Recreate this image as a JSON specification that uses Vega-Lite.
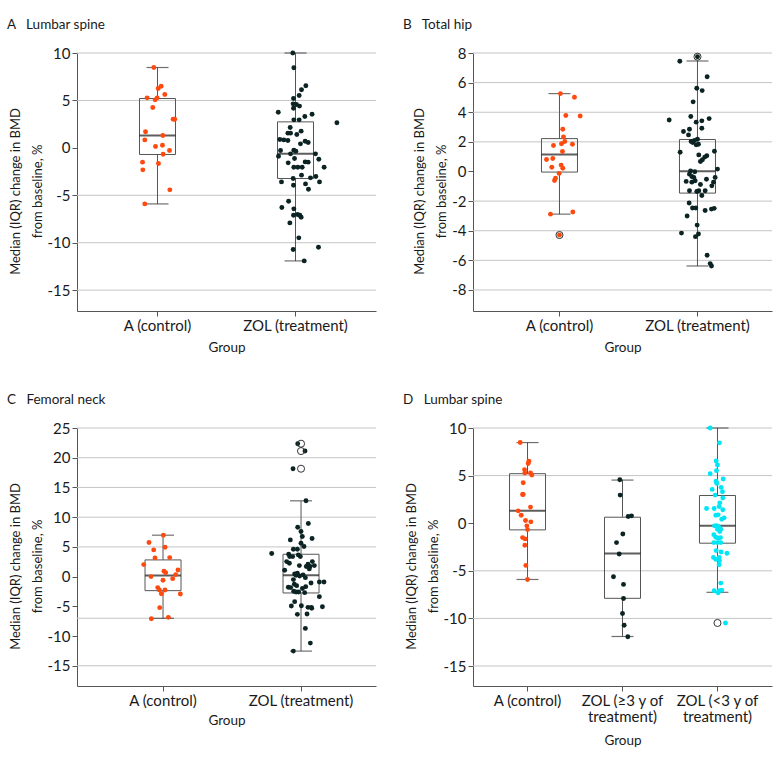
{
 "$schema": "https://vega.github.io/schema/vega-lite/v6.json",
 "padding": {"left": 7, "top": 17, "right": 5, "bottom": 5},
 "bounds": "flush",
 "columns": 2,
 "spacing": {"row": 117, "column": 97},
 "resolve": {"scale": {"x": "independent", "y": "independent", "color": "independent", "xOffset": "independent"}, "axis": {"x": "independent", "y": "independent"}},
 "config": {
  "font": "Lato",
  "view": {"stroke": null},
  "axis": {"labelFont": "Lato", "labelFontSize": 15, "labelColor": "#1a1a1a", "titleFont": "Lato", "titleFontSize": 13.5, "titleFontWeight": "normal", "titleColor": "#1a1a1a", "domainColor": "#555555", "tickColor": "#555555", "tickSize": 5, "grid": false, "labelPadding": 2, "labelOverlap": false},
  "title": {"font": "Lato", "fontSize": 13.5, "fontWeight": "normal", "anchor": "start", "frame": "group", "color": "#1a1a1a", "dx": -70, "offset": 15}
 },
 "datasets": {
  "gridA": [{"gv": 10}, {"gv": 5}, {"gv": -5}, {"gv": -10}, {"gv": -15}],
  "gridB": [{"gv": 8}, {"gv": 6}, {"gv": 4}, {"gv": 2}, {"gv": -2}, {"gv": -4}, {"gv": -6}, {"gv": -8}],
  "gridC": [{"gv": 25}, {"gv": 20}, {"gv": 15}, {"gv": 10}, {"gv": 5}, {"gv": -7}, {"gv": -15}],
  "boxA": [
   {"g": "A (control)", "lo": -5.91, "q1": -0.7, "med": 1.3, "q3": 5.2, "hi": 8.47},
   {"g": "ZOL (treatment)", "lo": -11.92, "q1": -3.23, "med": -0.63, "q3": 2.74, "hi": 10}
  ],
  "boxB": [
   {"g": "A (control)", "lo": -2.88, "q1": -0.04, "med": 1.15, "q3": 2.22, "hi": 5.26},
   {"g": "ZOL (treatment)", "lo": -6.38, "q1": -1.46, "med": 0.02, "q3": 2.16, "hi": 7.46}
  ],
  "boxC": [
   {"g": "A (control)", "lo": -7.02, "q1": -2.36, "med": 0.17, "q3": 2.81, "hi": 6.97},
   {"g": "ZOL (treatment)", "lo": -12.53, "q1": -2.75, "med": 0.22, "q3": 3.76, "hi": 12.75}
  ],
  "boxD": [
   {"g": "A (control)", "lo": -5.91, "q1": -0.7, "med": 1.3, "q3": 5.2, "hi": 8.47},
   {"g": "ZOL (≥3 y of treatment)", "lo": -11.9, "q1": -7.89, "med": -3.19, "q3": 0.63, "hi": 4.53},
   {"g": "ZOL (<3 y of treatment)", "lo": -7.26, "q1": -2.1, "med": -0.28, "q3": 2.91, "hi": 10}
  ],
  "outB": [{"g": "A (control)", "v": -4.29}, {"g": "ZOL (treatment)", "v": 7.75}],
  "outC": [{"g": "ZOL (treatment)", "v": 22.36}, {"g": "ZOL (treatment)", "v": 21.12}, {"g": "ZOL (treatment)", "v": 18.15}],
  "outD": [{"g": "ZOL (<3 y of treatment)", "v": -10.48}],
  "ptsA": [
   {"g": "A (control)", "v": 8.47, "j": -0.053}, {"g": "A (control)", "v": 6.26, "j": 0.01}, {"g": "A (control)", "v": 6.5, "j": 0.053},
   {"g": "A (control)", "v": 5.27, "j": -0.15}, {"g": "A (control)", "v": 5.06, "j": -0.034}, {"g": "A (control)", "v": 5.27, "j": -0.005},
   {"g": "A (control)", "v": 5.63, "j": 0.106}, {"g": "A (control)", "v": 4.25, "j": -0.068}, {"g": "A (control)", "v": 3.02, "j": 0.227},
   {"g": "A (control)", "v": 3.02, "j": 0.25}, {"g": "A (control)", "v": 1.69, "j": -0.174}, {"g": "A (control)", "v": 0.84, "j": -0.184},
   {"g": "A (control)", "v": 1.3, "j": 0.077}, {"g": "A (control)", "v": 0.14, "j": -0.029}, {"g": "A (control)", "v": 0.28, "j": 0.072},
   {"g": "A (control)", "v": -0.28, "j": 0.174}, {"g": "A (control)", "v": -0.67, "j": 0.082}, {"g": "A (control)", "v": -1.51, "j": -0.217},
   {"g": "A (control)", "v": -1.65, "j": 0.014}, {"g": "A (control)", "v": -2.32, "j": -0.213}, {"g": "A (control)", "v": -4.43, "j": 0.179},
   {"g": "A (control)", "v": -5.91, "j": -0.184},
   {"g": "ZOL (treatment)", "v": 10.0, "j": -0.039}, {"g": "ZOL (treatment)", "v": 8.44, "j": -0.024}, {"g": "ZOL (treatment)", "v": 6.54, "j": 0.15},
   {"g": "ZOL (treatment)", "v": 6.12, "j": 0.087}, {"g": "ZOL (treatment)", "v": 5.52, "j": 0.053}, {"g": "ZOL (treatment)", "v": 5.2, "j": -0.029},
   {"g": "ZOL (treatment)", "v": 4.64, "j": -0.034}, {"g": "ZOL (treatment)", "v": 4.57, "j": 0.014}, {"g": "ZOL (treatment)", "v": 4.4, "j": 0.058},
   {"g": "ZOL (treatment)", "v": 4.18, "j": -0.029}, {"g": "ZOL (treatment)", "v": 3.76, "j": -0.25}, {"g": "ZOL (treatment)", "v": 3.55, "j": 0.24},
   {"g": "ZOL (treatment)", "v": 3.3, "j": 0.135}, {"g": "ZOL (treatment)", "v": 2.95, "j": -0.024}, {"g": "ZOL (treatment)", "v": 2.95, "j": 0.053},
   {"g": "ZOL (treatment)", "v": 2.64, "j": 0.6}, {"g": "ZOL (treatment)", "v": 2.14, "j": -0.077}, {"g": "ZOL (treatment)", "v": 1.76, "j": 0.082},
   {"g": "ZOL (treatment)", "v": 1.55, "j": -0.11}, {"g": "ZOL (treatment)", "v": 1.55, "j": -0.072}, {"g": "ZOL (treatment)", "v": 1.41, "j": 0.019},
   {"g": "ZOL (treatment)", "v": 0.88, "j": -0.227}, {"g": "ZOL (treatment)", "v": 0.84, "j": -0.169}, {"g": "ZOL (treatment)", "v": 0.77, "j": -0.11},
   {"g": "ZOL (treatment)", "v": 0.7, "j": 0.14}, {"g": "ZOL (treatment)", "v": 0.56, "j": 0.184}, {"g": "ZOL (treatment)", "v": 0.42, "j": 0.072},
   {"g": "ZOL (treatment)", "v": -0.28, "j": -0.217}, {"g": "ZOL (treatment)", "v": -0.25, "j": -0.024}, {"g": "ZOL (treatment)", "v": -0.35, "j": 0.005},
   {"g": "ZOL (treatment)", "v": -0.63, "j": -0.072}, {"g": "ZOL (treatment)", "v": -0.63, "j": 0.29}, {"g": "ZOL (treatment)", "v": -0.88, "j": -0.246},
   {"g": "ZOL (treatment)", "v": -1.13, "j": -0.014}, {"g": "ZOL (treatment)", "v": -1.2, "j": 0.338}, {"g": "ZOL (treatment)", "v": -1.58, "j": -0.106},
   {"g": "ZOL (treatment)", "v": -1.48, "j": 0.14}, {"g": "ZOL (treatment)", "v": -1.51, "j": 0.184}, {"g": "ZOL (treatment)", "v": -2.04, "j": -0.024},
   {"g": "ZOL (treatment)", "v": -2.04, "j": 0.034}, {"g": "ZOL (treatment)", "v": -2.04, "j": 0.097}, {"g": "ZOL (treatment)", "v": -2.04, "j": 0.415},
   {"g": "ZOL (treatment)", "v": -2.88, "j": 0.087}, {"g": "ZOL (treatment)", "v": -3.02, "j": 0.295}, {"g": "ZOL (treatment)", "v": -3.16, "j": 0.217},
   {"g": "ZOL (treatment)", "v": -3.23, "j": -0.034}, {"g": "ZOL (treatment)", "v": -3.59, "j": -0.203}, {"g": "ZOL (treatment)", "v": -3.59, "j": 0.348},
   {"g": "ZOL (treatment)", "v": -3.94, "j": -0.029}, {"g": "ZOL (treatment)", "v": -3.8, "j": 0.145}, {"g": "ZOL (treatment)", "v": -4.36, "j": 0.188},
   {"g": "ZOL (treatment)", "v": -5.63, "j": -0.1}, {"g": "ZOL (treatment)", "v": -6.29, "j": -0.198}, {"g": "ZOL (treatment)", "v": -6.43, "j": -0.024},
   {"g": "ZOL (treatment)", "v": -7.1, "j": -0.029}, {"g": "ZOL (treatment)", "v": -7.03, "j": 0.029}, {"g": "ZOL (treatment)", "v": -7.1, "j": 0.063},
   {"g": "ZOL (treatment)", "v": -7.31, "j": 0.082}, {"g": "ZOL (treatment)", "v": -7.91, "j": -0.082}, {"g": "ZOL (treatment)", "v": -9.49, "j": 0.048},
   {"g": "ZOL (treatment)", "v": -10.72, "j": -0.034}, {"g": "ZOL (treatment)", "v": -10.48, "j": 0.333}, {"g": "ZOL (treatment)", "v": -11.92, "j": 0.126}
  ],
  "ptsB": [
   {"g": "A (control)", "v": 5.26, "j": 0.014}, {"g": "A (control)", "v": 5.01, "j": 0.217}, {"g": "A (control)", "v": 3.78, "j": 0.092},
   {"g": "A (control)", "v": 3.75, "j": 0.3}, {"g": "A (control)", "v": 2.85, "j": 0.048}, {"g": "A (control)", "v": 2.34, "j": 0.058},
   {"g": "A (control)", "v": 2.02, "j": 0.077}, {"g": "A (control)", "v": 1.87, "j": 0.029}, {"g": "A (control)", "v": 1.75, "j": -0.087},
   {"g": "A (control)", "v": 1.84, "j": 0.188}, {"g": "A (control)", "v": 1.35, "j": 0.043}, {"g": "A (control)", "v": 0.81, "j": -0.188},
   {"g": "A (control)", "v": 0.88, "j": -0.097}, {"g": "A (control)", "v": 0.43, "j": 0.024}, {"g": "A (control)", "v": 0.29, "j": -0.111},
   {"g": "A (control)", "v": 0.22, "j": 0.048}, {"g": "A (control)", "v": -0.13, "j": -0.005}, {"g": "A (control)", "v": -0.45, "j": -0.058},
   {"g": "A (control)", "v": -0.61, "j": -0.072}, {"g": "A (control)", "v": -2.88, "j": -0.13}, {"g": "A (control)", "v": -2.74, "j": 0.193},
   {"g": "A (control)", "v": -4.29, "j": 0},
   {"g": "ZOL (treatment)", "v": 7.75, "j": 0}, {"g": "ZOL (treatment)", "v": 7.44, "j": -0.256}, {"g": "ZOL (treatment)", "v": 6.4, "j": 0.14},
   {"g": "ZOL (treatment)", "v": 5.62, "j": -0.01}, {"g": "ZOL (treatment)", "v": 5.46, "j": 0.068}, {"g": "ZOL (treatment)", "v": 4.7, "j": -0.063},
   {"g": "ZOL (treatment)", "v": 3.48, "j": -0.41}, {"g": "ZOL (treatment)", "v": 3.71, "j": -0.097}, {"g": "ZOL (treatment)", "v": 3.57, "j": 0.169},
   {"g": "ZOL (treatment)", "v": 3.33, "j": -0.019}, {"g": "ZOL (treatment)", "v": 3.42, "j": 0.063}, {"g": "ZOL (treatment)", "v": 2.92, "j": 0.063},
   {"g": "ZOL (treatment)", "v": 2.7, "j": -0.203}, {"g": "ZOL (treatment)", "v": 2.85, "j": -0.116}, {"g": "ZOL (treatment)", "v": 2.47, "j": -0.13},
   {"g": "ZOL (treatment)", "v": 2.18, "j": 0}, {"g": "ZOL (treatment)", "v": 2.09, "j": -0.043}, {"g": "ZOL (treatment)", "v": 2.02, "j": -0.092},
   {"g": "ZOL (treatment)", "v": 1.96, "j": -0.068}, {"g": "ZOL (treatment)", "v": 1.84, "j": 0.014}, {"g": "ZOL (treatment)", "v": 1.8, "j": -0.019},
   {"g": "ZOL (treatment)", "v": 1.3, "j": -0.251}, {"g": "ZOL (treatment)", "v": 1.37, "j": 0.246}, {"g": "ZOL (treatment)", "v": 1.12, "j": 0.019},
   {"g": "ZOL (treatment)", "v": 1.06, "j": 0.135}, {"g": "ZOL (treatment)", "v": 0.97, "j": 0.106}, {"g": "ZOL (treatment)", "v": 0.79, "j": 0.072},
   {"g": "ZOL (treatment)", "v": 0.67, "j": 0.043}, {"g": "ZOL (treatment)", "v": 0.16, "j": 0.29}, {"g": "ZOL (treatment)", "v": 0.04, "j": -0.1},
   {"g": "ZOL (treatment)", "v": -0.02, "j": -0.039}, {"g": "ZOL (treatment)", "v": -0.18, "j": -0.116}, {"g": "ZOL (treatment)", "v": -0.34, "j": -0.082},
   {"g": "ZOL (treatment)", "v": -0.4, "j": -0.053}, {"g": "ZOL (treatment)", "v": -0.4, "j": 0.256}, {"g": "ZOL (treatment)", "v": -0.67, "j": -0.164},
   {"g": "ZOL (treatment)", "v": -0.72, "j": -0.082}, {"g": "ZOL (treatment)", "v": -0.63, "j": -0.034}, {"g": "ZOL (treatment)", "v": -0.88, "j": 0.043},
   {"g": "ZOL (treatment)", "v": -0.52, "j": 0.13}, {"g": "ZOL (treatment)", "v": -0.97, "j": 0.208}, {"g": "ZOL (treatment)", "v": -0.72, "j": 0.232},
   {"g": "ZOL (treatment)", "v": -1.3, "j": -0.116}, {"g": "ZOL (treatment)", "v": -1.35, "j": -0.01}, {"g": "ZOL (treatment)", "v": -1.3, "j": 0.019},
   {"g": "ZOL (treatment)", "v": -1.3, "j": 0.111}, {"g": "ZOL (treatment)", "v": -1.62, "j": 0.063}, {"g": "ZOL (treatment)", "v": -2.13, "j": -0.121},
   {"g": "ZOL (treatment)", "v": -2.47, "j": -0.072}, {"g": "ZOL (treatment)", "v": -2.47, "j": -0.024}, {"g": "ZOL (treatment)", "v": -2.63, "j": 0.111},
   {"g": "ZOL (treatment)", "v": -2.54, "j": 0.203}, {"g": "ZOL (treatment)", "v": -2.49, "j": 0.242}, {"g": "ZOL (treatment)", "v": -3.01, "j": -0.15},
   {"g": "ZOL (treatment)", "v": -3.62, "j": -0.005}, {"g": "ZOL (treatment)", "v": -4.16, "j": -0.232}, {"g": "ZOL (treatment)", "v": -4.4, "j": -0.029},
   {"g": "ZOL (treatment)", "v": -4.22, "j": 0.014}, {"g": "ZOL (treatment)", "v": -5.66, "j": 0.14}, {"g": "ZOL (treatment)", "v": -6.22, "j": 0.184},
   {"g": "ZOL (treatment)", "v": -6.38, "j": 0.203}
  ],
  "ptsC": [
   {"g": "A (control)", "v": 6.97, "j": 0.005}, {"g": "A (control)", "v": 5.73, "j": -0.203}, {"g": "A (control)", "v": 4.94, "j": 0.029},
   {"g": "A (control)", "v": 4.49, "j": -0.135}, {"g": "A (control)", "v": 3.15, "j": -0.116}, {"g": "A (control)", "v": 3.2, "j": 0.097},
   {"g": "A (control)", "v": 2.02, "j": -0.28}, {"g": "A (control)", "v": 0.9, "j": 0.014}, {"g": "A (control)", "v": 0.67, "j": 0.039},
   {"g": "A (control)", "v": 1.12, "j": 0.217}, {"g": "A (control)", "v": 0.34, "j": 0.184}, {"g": "A (control)", "v": 0.0, "j": -0.174},
   {"g": "A (control)", "v": -0.34, "j": 0.14}, {"g": "A (control)", "v": -0.62, "j": 0.0}, {"g": "A (control)", "v": -1.85, "j": -0.077},
   {"g": "A (control)", "v": -2.25, "j": -0.053}, {"g": "A (control)", "v": -2.25, "j": 0.029}, {"g": "A (control)", "v": -2.87, "j": -0.024},
   {"g": "A (control)", "v": -2.92, "j": 0.251}, {"g": "A (control)", "v": -5.22, "j": -0.048}, {"g": "A (control)", "v": -7.08, "j": -0.169},
   {"g": "A (control)", "v": -6.85, "j": 0.077},
   {"g": "ZOL (treatment)", "v": 22.36, "j": -0.048}, {"g": "ZOL (treatment)", "v": 21.12, "j": 0.058}, {"g": "ZOL (treatment)", "v": 18.15, "j": -0.116},
   {"g": "ZOL (treatment)", "v": 12.75, "j": 0.072}, {"g": "ZOL (treatment)", "v": 8.93, "j": 0.106}, {"g": "ZOL (treatment)", "v": 8.31, "j": -0.048},
   {"g": "ZOL (treatment)", "v": 7.58, "j": 0.0}, {"g": "ZOL (treatment)", "v": 6.74, "j": 0.019}, {"g": "ZOL (treatment)", "v": 6.4, "j": 0.16},
   {"g": "ZOL (treatment)", "v": 6.18, "j": -0.155}, {"g": "ZOL (treatment)", "v": 5.62, "j": 0.0}, {"g": "ZOL (treatment)", "v": 5.06, "j": 0.043},
   {"g": "ZOL (treatment)", "v": 4.61, "j": -0.111}, {"g": "ZOL (treatment)", "v": 4.61, "j": -0.053}, {"g": "ZOL (treatment)", "v": 3.88, "j": -0.425},
   {"g": "ZOL (treatment)", "v": 3.76, "j": -0.179}, {"g": "ZOL (treatment)", "v": 3.37, "j": -0.164}, {"g": "ZOL (treatment)", "v": 3.37, "j": -0.121},
   {"g": "ZOL (treatment)", "v": 3.65, "j": -0.039}, {"g": "ZOL (treatment)", "v": 3.37, "j": -0.01}, {"g": "ZOL (treatment)", "v": 2.53, "j": -0.208},
   {"g": "ZOL (treatment)", "v": 1.85, "j": -0.024}, {"g": "ZOL (treatment)", "v": 2.08, "j": 0.101}, {"g": "ZOL (treatment)", "v": 2.53, "j": 0.164},
   {"g": "ZOL (treatment)", "v": 1.85, "j": 0.193}, {"g": "ZOL (treatment)", "v": 1.69, "j": 0.13}, {"g": "ZOL (treatment)", "v": 1.69, "j": 0.077},
   {"g": "ZOL (treatment)", "v": 2.25, "j": -0.169}, {"g": "ZOL (treatment)", "v": 1.07, "j": -0.237}, {"g": "ZOL (treatment)", "v": 0.45, "j": -0.092},
   {"g": "ZOL (treatment)", "v": 0.56, "j": -0.053}, {"g": "ZOL (treatment)", "v": 0.22, "j": -0.072}, {"g": "ZOL (treatment)", "v": -0.17, "j": 0.063},
   {"g": "ZOL (treatment)", "v": 0.3, "j": 0.03}, {"g": "ZOL (treatment)", "v": 0.1, "j": -0.02}, {"g": "ZOL (treatment)", "v": -0.5, "j": -0.11},
   {"g": "ZOL (treatment)", "v": 1.3, "j": 0.12},
   {"g": "ZOL (treatment)", "v": -1.07, "j": 0.145}, {"g": "ZOL (treatment)", "v": -0.9, "j": 0.266}, {"g": "ZOL (treatment)", "v": -0.9, "j": 0.333},
   {"g": "ZOL (treatment)", "v": -1.8, "j": -0.184}, {"g": "ZOL (treatment)", "v": -1.85, "j": -0.15}, {"g": "ZOL (treatment)", "v": -1.29, "j": -0.097},
   {"g": "ZOL (treatment)", "v": -1.52, "j": -0.063}, {"g": "ZOL (treatment)", "v": -1.69, "j": 0.068}, {"g": "ZOL (treatment)", "v": -2.47, "j": -0.106},
   {"g": "ZOL (treatment)", "v": -2.58, "j": -0.072}, {"g": "ZOL (treatment)", "v": -2.58, "j": -0.034}, {"g": "ZOL (treatment)", "v": -2.7, "j": 0.053},
   {"g": "ZOL (treatment)", "v": -2.0, "j": 0.02}, {"g": "ZOL (treatment)", "v": -3.37, "j": 0.266}, {"g": "ZOL (treatment)", "v": -4.21, "j": -0.092},
   {"g": "ZOL (treatment)", "v": -4.94, "j": -0.14}, {"g": "ZOL (treatment)", "v": -4.89, "j": 0.005}, {"g": "ZOL (treatment)", "v": -5.17, "j": 0.101},
   {"g": "ZOL (treatment)", "v": -5.17, "j": 0.15}, {"g": "ZOL (treatment)", "v": -5.34, "j": 0.155}, {"g": "ZOL (treatment)", "v": -5.06, "j": 0.31},
   {"g": "ZOL (treatment)", "v": -6.35, "j": -0.053}, {"g": "ZOL (treatment)", "v": -6.29, "j": 0.087}, {"g": "ZOL (treatment)", "v": -8.71, "j": 0.063},
   {"g": "ZOL (treatment)", "v": -11.18, "j": 0.135}, {"g": "ZOL (treatment)", "v": -12.53, "j": -0.111}
  ],
  "ptsD": [
   {"g": "A (control)", "v": 8.47, "j": -0.154}, {"g": "A (control)", "v": 6.5, "j": 0.028}, {"g": "A (control)", "v": 6.26, "j": 0.014},
   {"g": "A (control)", "v": 5.63, "j": -0.063}, {"g": "A (control)", "v": 5.27, "j": -0.056}, {"g": "A (control)", "v": 5.06, "j": 0.091},
   {"g": "A (control)", "v": 5.27, "j": 0.063}, {"g": "A (control)", "v": 4.25, "j": -0.091}, {"g": "A (control)", "v": 3.02, "j": -0.105},
   {"g": "A (control)", "v": 3.02, "j": -0.09}, {"g": "A (control)", "v": 1.69, "j": 0.063}, {"g": "A (control)", "v": 1.3, "j": -0.196},
   {"g": "A (control)", "v": 0.84, "j": -0.133}, {"g": "A (control)", "v": 0.14, "j": 0.07}, {"g": "A (control)", "v": 0.28, "j": -0.042},
   {"g": "A (control)", "v": -0.28, "j": -0.014}, {"g": "A (control)", "v": -0.67, "j": 0.0}, {"g": "A (control)", "v": -1.51, "j": -0.105},
   {"g": "A (control)", "v": -1.65, "j": -0.049}, {"g": "A (control)", "v": -2.32, "j": -0.056}, {"g": "A (control)", "v": -4.43, "j": -0.035},
   {"g": "A (control)", "v": -5.91, "j": 0.0},
   {"g": "ZOL (≥3 y of treatment)", "v": 4.57, "j": -0.056}, {"g": "ZOL (≥3 y of treatment)", "v": 2.95, "j": -0.049},
   {"g": "ZOL (≥3 y of treatment)", "v": 0.77, "j": 0.19}, {"g": "ZOL (≥3 y of treatment)", "v": 0.7, "j": 0.12},
   {"g": "ZOL (≥3 y of treatment)", "v": -1.13, "j": 0.007}, {"g": "ZOL (≥3 y of treatment)", "v": -2.04, "j": -0.126},
   {"g": "ZOL (≥3 y of treatment)", "v": -3.23, "j": -0.07}, {"g": "ZOL (≥3 y of treatment)", "v": -5.63, "j": -0.19},
   {"g": "ZOL (≥3 y of treatment)", "v": -6.43, "j": 0.021}, {"g": "ZOL (≥3 y of treatment)", "v": -7.91, "j": 0.021},
   {"g": "ZOL (≥3 y of treatment)", "v": -9.49, "j": 0.0}, {"g": "ZOL (≥3 y of treatment)", "v": -10.72, "j": 0.035},
   {"g": "ZOL (≥3 y of treatment)", "v": -11.92, "j": 0.112},
   {"g": "ZOL (<3 y of treatment)", "v": 10.0, "j": -0.154}, {"g": "ZOL (<3 y of treatment)", "v": 8.44, "j": 0.042},
   {"g": "ZOL (<3 y of treatment)", "v": 6.54, "j": -0.028}, {"g": "ZOL (<3 y of treatment)", "v": 6.12, "j": 0.0},
   {"g": "ZOL (<3 y of treatment)", "v": 5.52, "j": -0.021}, {"g": "ZOL (<3 y of treatment)", "v": 5.2, "j": -0.154},
   {"g": "ZOL (<3 y of treatment)", "v": 4.64, "j": 0.12}, {"g": "ZOL (<3 y of treatment)", "v": 4.4, "j": -0.028},
   {"g": "ZOL (<3 y of treatment)", "v": 4.18, "j": -0.014}, {"g": "ZOL (<3 y of treatment)", "v": 3.76, "j": 0.077},
   {"g": "ZOL (<3 y of treatment)", "v": 3.55, "j": -0.112}, {"g": "ZOL (<3 y of treatment)", "v": 3.3, "j": 0.105},
   {"g": "ZOL (<3 y of treatment)", "v": 2.95, "j": -0.049}, {"g": "ZOL (<3 y of treatment)", "v": 2.64, "j": 0.112},
   {"g": "ZOL (<3 y of treatment)", "v": 2.14, "j": 0.049}, {"g": "ZOL (<3 y of treatment)", "v": 1.76, "j": 0.035},
   {"g": "ZOL (<3 y of treatment)", "v": 1.55, "j": -0.23}, {"g": "ZOL (<3 y of treatment)", "v": 1.55, "j": -0.07},
   {"g": "ZOL (<3 y of treatment)", "v": 1.41, "j": 0.112}, {"g": "ZOL (<3 y of treatment)", "v": 0.88, "j": 0.014},
   {"g": "ZOL (<3 y of treatment)", "v": 0.84, "j": -0.035}, {"g": "ZOL (<3 y of treatment)", "v": 0.56, "j": 0.14},
   {"g": "ZOL (<3 y of treatment)", "v": 0.42, "j": 0.09}, {"g": "ZOL (<3 y of treatment)", "v": -0.28, "j": -0.063},
   {"g": "ZOL (<3 y of treatment)", "v": -0.25, "j": -0.021}, {"g": "ZOL (<3 y of treatment)", "v": -0.35, "j": 0.021},
   {"g": "ZOL (<3 y of treatment)", "v": -0.63, "j": 0.07}, {"g": "ZOL (<3 y of treatment)", "v": -0.63, "j": 0.0},
   {"g": "ZOL (<3 y of treatment)", "v": -0.88, "j": 0.049}, {"g": "ZOL (<3 y of treatment)", "v": -1.2, "j": -0.077},
   {"g": "ZOL (<3 y of treatment)", "v": -1.58, "j": 0.014}, {"g": "ZOL (<3 y of treatment)", "v": -1.48, "j": -0.035},
   {"g": "ZOL (<3 y of treatment)", "v": -1.51, "j": 0.063}, {"g": "ZOL (<3 y of treatment)", "v": -2.04, "j": -0.077},
   {"g": "ZOL (<3 y of treatment)", "v": -2.04, "j": 0.07}, {"g": "ZOL (<3 y of treatment)", "v": -2.04, "j": 0.0},
   {"g": "ZOL (<3 y of treatment)", "v": -2.88, "j": -0.028}, {"g": "ZOL (<3 y of treatment)", "v": -3.02, "j": 0.077},
   {"g": "ZOL (<3 y of treatment)", "v": -3.16, "j": 0.2}, {"g": "ZOL (<3 y of treatment)", "v": -3.59, "j": -0.084},
   {"g": "ZOL (<3 y of treatment)", "v": -3.59, "j": 0.035}, {"g": "ZOL (<3 y of treatment)", "v": -3.94, "j": 0.042},
   {"g": "ZOL (<3 y of treatment)", "v": -3.8, "j": -0.035}, {"g": "ZOL (<3 y of treatment)", "v": -4.36, "j": 0.035},
   {"g": "ZOL (<3 y of treatment)", "v": -6.29, "j": 0.07}, {"g": "ZOL (<3 y of treatment)", "v": -7.1, "j": -0.07},
   {"g": "ZOL (<3 y of treatment)", "v": -7.03, "j": 0.09}, {"g": "ZOL (<3 y of treatment)", "v": -7.1, "j": 0.035},
   {"g": "ZOL (<3 y of treatment)", "v": -7.31, "j": 0.014}, {"g": "ZOL (<3 y of treatment)", "v": -10.48, "j": 0.168}
  ]
 },
 "concat": [
    {
     "width": 299, "height": 258,
     "title": {"text": "A\u00a0\u00a0\u00a0Lumbar spine"},
     "encoding": {"y": {"type": "quantitative", "scale": {"domain": [-17.2, 10], "nice": false, "zero": false},
         "axis": {"title": ["Median (IQR) change in BMD", "from baseline, %"], "values": [10, 5, 0, -5, -10, -15], "labelOverlap": false, "labelExpr": "datum.value + ''", "titleFontSize": 13, "titleLineHeight": 22, "titlePadding": 3, "titleY": 138}}},
     "layer": [
      {"data": {"name": "gridA"}, "mark": {"type": "rule", "color": "#c4c4c4", "strokeWidth": 1}, "encoding": {"y": {"field": "gv"}}},
      {"mark": {"type": "rule", "color": "#333333", "strokeWidth": 1}, "encoding": {"y": {"datum": 0}}},
      {"data": {"name": "boxA"}, "mark": {"type": "bar", "size": 36, "fillOpacity": 0, "stroke": "#555555", "strokeWidth": 1},
       "encoding": {"x": {"field": "g", "type": "nominal", "scale": {"domain": ["A (control)", "ZOL (treatment)"], "paddingInner": 0, "paddingOuter": 0.0833, "align": 0.5}, "axis": {"title": "Group", "labelAngle": 0, "titlePadding": 7}},
        "y": {"field": "q1"}, "y2": {"field": "q3"}}},
      {"data": {"name": "boxA"}, "mark": {"type": "rule", "color": "#555555"}, "encoding": {"x": {"field": "g", "type": "nominal"}, "y": {"field": "lo"}, "y2": {"field": "q1"}}},
      {"data": {"name": "boxA"}, "mark": {"type": "rule", "color": "#555555"}, "encoding": {"x": {"field": "g", "type": "nominal"}, "y": {"field": "q3"}, "y2": {"field": "hi"}}},
      {"data": {"name": "boxA"}, "mark": {"type": "tick", "size": 22, "thickness": 1.2, "color": "#333333"}, "encoding": {"x": {"field": "g", "type": "nominal"}, "y": {"field": "lo"}}},
      {"data": {"name": "boxA"}, "mark": {"type": "tick", "size": 22, "thickness": 1.2, "color": "#333333"}, "encoding": {"x": {"field": "g", "type": "nominal"}, "y": {"field": "hi"}}},
      {"data": {"name": "boxA"}, "mark": {"type": "tick", "size": 36, "thickness": 2, "color": "#1a1a1a"}, "encoding": {"x": {"field": "g", "type": "nominal"}, "y": {"field": "med"}}},
      {"data": {"name": "ptsA"}, "mark": {"type": "circle", "size": 24, "opacity": 1},
       "encoding": {"x": {"field": "g", "type": "nominal"}, "xOffset": {"field": "j", "type": "quantitative", "scale": {"domain": [-1, 1]}},
        "y": {"field": "v"},
        "color": {"field": "g", "type": "nominal", "scale": {"domain": ["A (control)", "ZOL (treatment)"], "range": ["#ff4a0f", "#0c2323"]}, "legend": null}}}
     ]
    },
    {
     "width": 299, "height": 258,
     "title": {"text": "B\u00a0\u00a0\u00a0Total hip"},
     "encoding": {"y": {"type": "quantitative", "scale": {"domain": [-9.42, 8], "nice": false, "zero": false},
         "axis": {"title": ["Median (IQR) change in BMD", "from baseline, %"], "values": [8, 6, 4, 2, 0, -2, -4, -6, -8], "labelOverlap": false, "labelExpr": "datum.value + ''", "titleFontSize": 13, "titleLineHeight": 22, "titlePadding": 3, "titleY": 138}}},
     "layer": [
      {"data": {"name": "gridB"}, "mark": {"type": "rule", "color": "#c4c4c4", "strokeWidth": 1}, "encoding": {"y": {"field": "gv"}}},
      {"mark": {"type": "rule", "color": "#333333", "strokeWidth": 1}, "encoding": {"y": {"datum": 0}}},
      {"data": {"name": "boxB"}, "mark": {"type": "bar", "size": 36, "fillOpacity": 0, "stroke": "#555555", "strokeWidth": 1},
       "encoding": {"x": {"field": "g", "type": "nominal", "scale": {"domain": ["A (control)", "ZOL (treatment)"], "paddingInner": 0, "paddingOuter": 0.0833, "align": 0.76}, "axis": {"title": "Group", "labelAngle": 0, "titlePadding": 7}},
        "y": {"field": "q1"}, "y2": {"field": "q3"}}},
      {"data": {"name": "boxB"}, "mark": {"type": "rule", "color": "#555555"}, "encoding": {"x": {"field": "g", "type": "nominal"}, "y": {"field": "lo"}, "y2": {"field": "q1"}}},
      {"data": {"name": "boxB"}, "mark": {"type": "rule", "color": "#555555"}, "encoding": {"x": {"field": "g", "type": "nominal"}, "y": {"field": "q3"}, "y2": {"field": "hi"}}},
      {"data": {"name": "boxB"}, "mark": {"type": "tick", "size": 22, "thickness": 1.2, "color": "#333333"}, "encoding": {"x": {"field": "g", "type": "nominal"}, "y": {"field": "lo"}}},
      {"data": {"name": "boxB"}, "mark": {"type": "tick", "size": 22, "thickness": 1.2, "color": "#333333"}, "encoding": {"x": {"field": "g", "type": "nominal"}, "y": {"field": "hi"}}},
      {"data": {"name": "boxB"}, "mark": {"type": "tick", "size": 36, "thickness": 2, "color": "#1a1a1a"}, "encoding": {"x": {"field": "g", "type": "nominal"}, "y": {"field": "med"}}},
      {"data": {"name": "ptsB"}, "mark": {"type": "circle", "size": 24, "opacity": 1},
       "encoding": {"x": {"field": "g", "type": "nominal"}, "xOffset": {"field": "j", "type": "quantitative", "scale": {"domain": [-1, 1]}},
        "y": {"field": "v"},
        "color": {"field": "g", "type": "nominal", "scale": {"domain": ["A (control)", "ZOL (treatment)"], "range": ["#ff4a0f", "#0c2323"]}, "legend": null}}},
      {"data": {"name": "outB"}, "mark": {"type": "point", "filled": false, "size": 50, "color": "#333333", "strokeWidth": 1, "opacity": 1},
       "encoding": {"x": {"field": "g", "type": "nominal"}, "y": {"field": "v"}}}
     ]
    },
    {
     "width": 299, "height": 258,
     "title": {"text": "C\u00a0\u00a0\u00a0Femoral neck"},
     "encoding": {"y": {"type": "quantitative", "scale": {"domain": [-18.4, 25], "nice": false, "zero": false},
         "axis": {"title": ["Median (IQR) change in BMD", "from baseline, %"], "values": [25, 20, 15, 10, 5, 0, -5, -10, -15], "labelOverlap": false, "labelExpr": "datum.value + ''", "titleFontSize": 13, "titleLineHeight": 22, "titlePadding": 3, "titleY": 138}}},
     "layer": [
      {"data": {"name": "gridC"}, "mark": {"type": "rule", "color": "#c4c4c4", "strokeWidth": 1}, "encoding": {"y": {"field": "gv"}}},
      {"mark": {"type": "rule", "color": "#333333", "strokeWidth": 1}, "encoding": {"y": {"datum": 0}}},
      {"data": {"name": "boxC"}, "mark": {"type": "bar", "size": 36, "fillOpacity": 0, "stroke": "#555555", "strokeWidth": 1},
       "encoding": {"x": {"field": "g", "type": "nominal", "scale": {"domain": ["A (control)", "ZOL (treatment)"], "paddingInner": 0, "paddingOuter": 0.0833, "align": 0.74}, "axis": {"title": "Group", "labelAngle": 0, "titlePadding": 5}},
        "y": {"field": "q1"}, "y2": {"field": "q3"}}},
      {"data": {"name": "boxC"}, "mark": {"type": "rule", "color": "#555555"}, "encoding": {"x": {"field": "g", "type": "nominal"}, "y": {"field": "lo"}, "y2": {"field": "q1"}}},
      {"data": {"name": "boxC"}, "mark": {"type": "rule", "color": "#555555"}, "encoding": {"x": {"field": "g", "type": "nominal"}, "y": {"field": "q3"}, "y2": {"field": "hi"}}},
      {"data": {"name": "boxC"}, "mark": {"type": "tick", "size": 22, "thickness": 1.2, "color": "#333333"}, "encoding": {"x": {"field": "g", "type": "nominal"}, "y": {"field": "lo"}}},
      {"data": {"name": "boxC"}, "mark": {"type": "tick", "size": 22, "thickness": 1.2, "color": "#333333"}, "encoding": {"x": {"field": "g", "type": "nominal"}, "y": {"field": "hi"}}},
      {"data": {"name": "boxC"}, "mark": {"type": "tick", "size": 36, "thickness": 2, "color": "#1a1a1a"}, "encoding": {"x": {"field": "g", "type": "nominal"}, "y": {"field": "med"}}},
      {"data": {"name": "ptsC"}, "mark": {"type": "circle", "size": 24, "opacity": 1},
       "encoding": {"x": {"field": "g", "type": "nominal"}, "xOffset": {"field": "j", "type": "quantitative", "scale": {"domain": [-1, 1]}},
        "y": {"field": "v"},
        "color": {"field": "g", "type": "nominal", "scale": {"domain": ["A (control)", "ZOL (treatment)"], "range": ["#ff4a0f", "#0c2323"]}, "legend": null}}},
      {"data": {"name": "outC"}, "mark": {"type": "point", "filled": false, "size": 50, "color": "#333333", "strokeWidth": 1, "opacity": 1},
       "encoding": {"x": {"field": "g", "type": "nominal"}, "y": {"field": "v"}}}
     ]
    },
    {
     "width": 299, "height": 258,
     "title": {"text": "D\u00a0\u00a0\u00a0Lumbar spine"},
     "encoding": {"y": {"type": "quantitative", "scale": {"domain": [-17.1, 10], "nice": false, "zero": false},
         "axis": {"title": ["Median (IQR) change in BMD", "from baseline, %"], "values": [10, 5, 0, -5, -10, -15], "labelOverlap": false, "labelExpr": "datum.value + ''", "titleFontSize": 13, "titleLineHeight": 22, "titlePadding": 3, "titleY": 138}}},
     "layer": [
      {"data": {"name": "gridA"}, "mark": {"type": "rule", "color": "#c4c4c4", "strokeWidth": 1}, "encoding": {"y": {"field": "gv"}}},
      {"mark": {"type": "rule", "color": "#333333", "strokeWidth": 1}, "encoding": {"y": {"datum": 0}}},
      {"data": {"name": "boxD"}, "mark": {"type": "bar", "size": 36, "fillOpacity": 0, "stroke": "#555555", "strokeWidth": 1},
       "encoding": {"x": {"field": "g", "type": "nominal", "scale": {"domain": ["A (control)", "ZOL (≥3 y of treatment)", "ZOL (<3 y of treatment)"], "paddingInner": 0, "paddingOuter": 0.074, "align": 0.5},
         "axis": {"title": "Group", "labelAngle": 0, "titlePadding": 9, "labelLineHeight": 16, "labelExpr": "datum.label == 'A (control)' ? datum.label : [slice(datum.label, 0, length(datum.label) - 11), 'treatment)']"}},
        "y": {"field": "q1"}, "y2": {"field": "q3"}}},
      {"data": {"name": "boxD"}, "mark": {"type": "rule", "color": "#555555"}, "encoding": {"x": {"field": "g", "type": "nominal"}, "y": {"field": "lo"}, "y2": {"field": "q1"}}},
      {"data": {"name": "boxD"}, "mark": {"type": "rule", "color": "#555555"}, "encoding": {"x": {"field": "g", "type": "nominal"}, "y": {"field": "q3"}, "y2": {"field": "hi"}}},
      {"data": {"name": "boxD"}, "mark": {"type": "tick", "size": 22, "thickness": 1.2, "color": "#333333"}, "encoding": {"x": {"field": "g", "type": "nominal"}, "y": {"field": "lo"}}},
      {"data": {"name": "boxD"}, "mark": {"type": "tick", "size": 22, "thickness": 1.2, "color": "#333333"}, "encoding": {"x": {"field": "g", "type": "nominal"}, "y": {"field": "hi"}}},
      {"data": {"name": "boxD"}, "mark": {"type": "tick", "size": 36, "thickness": 2, "color": "#1a1a1a"}, "encoding": {"x": {"field": "g", "type": "nominal"}, "y": {"field": "med"}}},
      {"data": {"name": "ptsD"}, "mark": {"type": "circle", "size": 24, "opacity": 1},
       "encoding": {"x": {"field": "g", "type": "nominal"}, "xOffset": {"field": "j", "type": "quantitative", "scale": {"domain": [-1, 1]}},
        "y": {"field": "v"},
        "color": {"field": "g", "type": "nominal", "scale": {"domain": ["A (control)", "ZOL (≥3 y of treatment)", "ZOL (<3 y of treatment)"], "range": ["#ff4a0f", "#0c2323", "#00e6f6"]}, "legend": null}}},
      {"data": {"name": "outD"}, "mark": {"type": "point", "filled": false, "size": 50, "color": "#333333", "strokeWidth": 1, "opacity": 1},
       "encoding": {"x": {"field": "g", "type": "nominal"}, "y": {"field": "v"}}}
     ]
    }
 ]
}
